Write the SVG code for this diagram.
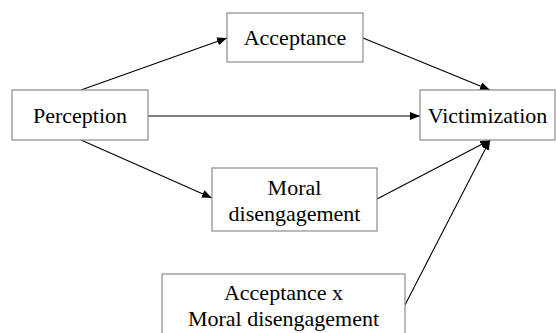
<svg xmlns="http://www.w3.org/2000/svg" width="556" height="333" viewBox="0 0 556 333">
<style>
.box{fill:#fff;stroke:#8c8c8c;stroke-width:1.2}
.lbl{font-family:"Liberation Serif","Times New Roman",serif;font-size:22px;fill:#000;text-anchor:middle}
.edge{stroke:#000;stroke-width:1.1;fill:none;marker-end:url(#ah)}
.plain{stroke:#000;stroke-width:1.1;fill:none}
</style>
<defs>
<marker id="ah" viewBox="0 0 10 8" refX="10" refY="4" markerWidth="10" markerHeight="8" markerUnits="userSpaceOnUse" orient="auto">
<path d="M0,0 L10,4 L0,8 Z" fill="#000"/>
</marker>
</defs>
<rect width="556" height="333" fill="#fff"/>
<g id="connectors">
<line class="edge" x1="81" y1="90" x2="227" y2="38"/>
<line class="edge" x1="363" y1="38" x2="490" y2="90"/>
<line class="edge" x1="148" y1="116" x2="420" y2="116"/>
<line class="edge" x1="81" y1="140" x2="212" y2="198"/>
<line class="edge" x1="377" y1="199" x2="490" y2="140"/>
<line class="edge" x1="405" y1="305" x2="490" y2="140"/>
</g>
<g id="perception">
<rect class="box" x="12" y="90" width="136" height="50"/>
<text class="lbl" x="80" y="123">Perception</text>
</g>
<g id="acceptance">
<rect class="box" x="227" y="13" width="136" height="49"/>
<text class="lbl" x="295" y="45">Acceptance</text>
</g>
<g id="victimization">
<rect class="box" x="420" y="90" width="135" height="50"/>
<text class="lbl" x="487.5" y="123">Victimization</text>
</g>
<g id="moral">
<rect class="box" x="212" y="168" width="165" height="63"/>
<text class="lbl" x="294.5" y="195">Moral</text>
<text class="lbl" x="294.5" y="221">disengagement</text>
</g>
<g id="interaction">
<rect class="box" x="162" y="274" width="243" height="70"/>
<text class="lbl" x="283.5" y="300">Acceptance x</text>
<text class="lbl" x="283.5" y="326">Moral disengagement</text>
</g>
</svg>
